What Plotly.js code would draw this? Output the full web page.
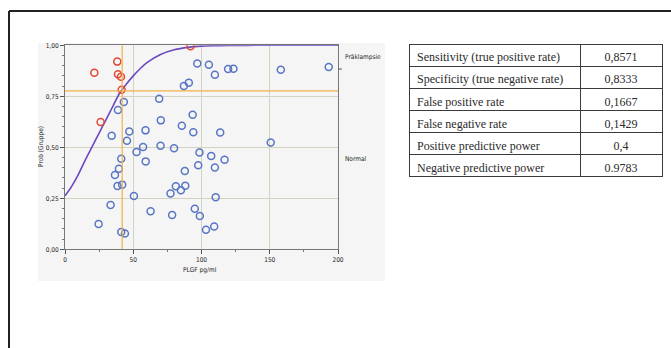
<!DOCTYPE html>
<html>
<head>
<meta charset="utf-8">
<script src="https://cdn.plot.ly/plotly-3.0.1.min.js"></script>
<style>
  html, body { margin: 0; padding: 0; background: #ffffff; }
  #chart { width: 671px; height: 348px; }
</style>
</head>
<body>
<div id="chart"></div>
<script>
// ---- Data ----
// Präklampsie group (red open circles): PLGF pg/ml and predicted probability
const preX = [21.5, 38.3, 38.8, 41.0, 41.5, 26.1, 92.0];
const preP = [0.866, 0.920, 0.858, 0.846, 0.782, 0.624, 0.995];

// Normal group (blue open circles)
const normX = [96.9, 105.4, 109.8, 119.5, 123.4, 158.1, 193.2, 87.1, 90.7, 69.0,
               43.1, 38.8, 70.2, 93.5, 85.6, 47.1, 59.0, 34.2, 45.4, 94.0,
               113.7, 150.7, 57.2, 70.0, 79.9, 52.4, 41.2, 59.1, 39.5, 36.6,
               38.5, 41.9, 87.8, 97.6, 98.5, 107.1, 116.9, 109.8, 50.5, 33.4,
               81.2, 84.9, 88.1, 77.3, 62.7, 78.5, 95.1, 98.8, 24.6, 41.2,
               43.9, 103.3, 109.3, 110.4];
const normP = [0.911, 0.905, 0.856, 0.884, 0.885, 0.880, 0.894, 0.800, 0.817, 0.738,
               0.722, 0.683, 0.632, 0.660, 0.606, 0.577, 0.583, 0.557, 0.532, 0.574,
               0.573, 0.524, 0.502, 0.508, 0.495, 0.477, 0.444, 0.431, 0.395, 0.364,
               0.310, 0.317, 0.384, 0.412, 0.474, 0.457, 0.439, 0.401, 0.261, 0.217,
               0.309, 0.289, 0.312, 0.274, 0.186, 0.168, 0.199, 0.163, 0.124, 0.085,
               0.077, 0.096, 0.112, 0.255];

// Fitted logistic curve
const curveX = [0, 5, 10, 15, 20, 25, 30, 35, 40, 45, 50, 55, 60, 70, 80, 90, 100, 110, 120, 140, 160, 180, 200];
const curveP = [0.262, 0.31, 0.37, 0.44, 0.505, 0.57, 0.635, 0.70, 0.765, 0.81, 0.85, 0.885, 0.915, 0.955, 0.978, 0.99, 0.996, 0.998, 0.999, 1.0, 1.0, 1.0, 1.0];

// Cut-off lines
const cutoffX = 41.9;
const cutoffP = 0.777;

// Axis ticks
const xTicks = [0, 50, 100, 150, 200];
const yTicks = [0, 0.25, 0.5, 0.75, 1.0];

// Titles and group labels
const xTitle = 'PLGF pg/ml';
const yTitle = 'Prob (Gruppe)';
const groupLabels = ["Präklampsie", "Normal"];

// Table
const metricNames = ["Sensitivity (true positive rate)", "Specificity (true negative rate)",
                     "False positive rate", "False negative rate",
                     "Positive predictive power", "Negative predictive power"];
const metricValues = ["0,8571", "0,8333", "0,1667", "0,1429", "0,4", "0.9783"];

// ---- Layout geometry (pixels) ----
const W = 671, H = 348;
const px = v => v / W;
const py = v => 1 - v / H;

const smallFont = { family: 'DejaVu Sans Condensed, DejaVu Sans, sans-serif', size: 6.5, color: '#262626' };

const traces = [
  {
    type: 'scatter', mode: 'lines', x: curveX, y: curveP,
    line: { color: 'rgb(108,72,190)', width: 1.6, shape: 'spline', smoothing: 1 },
    hoverinfo: 'skip', showlegend: false
  },
  {
    type: 'scatter', mode: 'markers', x: normX, y: normP,
    marker: { symbol: 'circle-open', size: 7, color: 'rgb(88,118,196)', line: { width: 1.5, color: 'rgb(88,118,196)' } },
    showlegend: false
  },
  {
    type: 'scatter', mode: 'markers', x: preX, y: preP,
    marker: { symbol: 'circle-open', size: 7, color: 'rgb(226,72,52)', line: { width: 1.5, color: 'rgb(226,72,52)' } },
    showlegend: false
  },
  {
    type: 'table',
    domain: { x: [px(409), px(662.5)], y: [py(178), py(44.3)] },
    columnwidth: [171, 82],
    header: {
      values: [metricNames[0], metricValues[0]],
      align: ['left', 'center'],
      height: 22.1,
      fill: { color: '#ffffff' },
      line: { color: '#3a3a3a', width: 1 },
      font: { family: 'Liberation Serif, Times New Roman, serif', size: 12, color: '#2a2a2a' }
    },
    cells: {
      values: [metricNames.slice(1), metricValues.slice(1)],
      align: ['left', 'center'],
      height: 22.1,
      fill: { color: '#ffffff' },
      line: { color: '#3a3a3a', width: 1 },
      font: { family: 'Liberation Serif, Times New Roman, serif', size: 12, color: '#2a2a2a' }
    }
  }
];

const layout = {
  width: W, height: H,
  margin: { l: 0, r: 0, t: 0, b: 0, pad: 0 },
  paper_bgcolor: '#ffffff',
  plot_bgcolor: 'rgb(244,244,216)',
  separators: ',.',
  showlegend: false,
  xaxis: {
    domain: [px(65), px(338)],
    range: [0, 200],
    tickvals: xTicks,
    ticks: 'outside', ticklen: 4, tickcolor: '#555', tickwidth: 1,
    minor: { dtick: 25, ticks: 'outside', ticklen: 2, tickcolor: '#777', showgrid: false },
    showgrid: true, gridcolor: 'rgb(210,212,192)', gridwidth: 1,
    zeroline: false,
    showline: true, linecolor: '#777', linewidth: 1, mirror: true,
    tickfont: smallFont,
    fixedrange: true
  },
  yaxis: {
    domain: [py(249.3), py(45.3)],
    range: [0, 1],
    tickvals: yTicks,
    tickformat: '.2f',
    ticks: 'outside', ticklen: 4, tickcolor: '#555', tickwidth: 1,
    minor: { dtick: 0.05, ticks: 'outside', ticklen: 2, tickcolor: '#777', showgrid: false },
    showgrid: true, gridcolor: 'rgb(210,212,192)', gridwidth: 1,
    zeroline: false,
    showline: true, linecolor: '#777', linewidth: 1, mirror: true,
    tickfont: smallFont,
    fixedrange: true
  },
  shapes: [
    // light grey chart panel
    { type: 'rect', xref: 'paper', yref: 'paper', x0: px(38), x1: px(385), y0: py(281), y1: py(43),
      fillcolor: 'rgb(245,245,245)', line: { width: 0 }, layer: 'below' },
    // outer frame (top and left)
    { type: 'line', xref: 'paper', yref: 'paper', x0: px(9), x1: px(671), y0: py(11), y1: py(11),
      line: { color: '#222', width: 2 } },
    { type: 'line', xref: 'paper', yref: 'paper', x0: px(9), x1: px(9), y0: py(11), y1: py(348),
      line: { color: '#222', width: 2 } },
    // cut-off lines
    { type: 'line', xref: 'x', yref: 'y', x0: cutoffX, x1: cutoffX, y0: 0, y1: 1,
      line: { color: 'rgb(240,178,70)', width: 1.2 } },
    { type: 'line', xref: 'x', yref: 'y', x0: 0, x1: 200, y0: cutoffP, y1: cutoffP,
      line: { color: 'rgb(240,178,70)', width: 1.2 } },
    // right-side group tick
    { type: 'line', xref: 'paper', yref: 'paper', x0: px(338), x1: px(342), y0: py(69), y1: py(69),
      line: { color: '#555', width: 1 } }
  ],
  annotations: [
    { xref: 'paper', yref: 'paper', x: px(200), y: py(270), text: xTitle, showarrow: false,
      xanchor: 'center', yanchor: 'middle', font: smallFont },
    { xref: 'paper', yref: 'paper', x: px(41), y: py(147), text: yTitle, showarrow: false, textangle: -90,
      xanchor: 'center', yanchor: 'middle', font: smallFont },
    { xref: 'paper', yref: 'paper', x: px(343), y: py(57), text: groupLabels[0], showarrow: false,
      xanchor: 'left', yanchor: 'middle', font: smallFont },
    { xref: 'paper', yref: 'paper', x: px(343), y: py(159), text: groupLabels[1], showarrow: false,
      xanchor: 'left', yanchor: 'middle', font: smallFont }
  ]
};

Plotly.newPlot('chart', traces, layout, { displayModeBar: false, staticPlot: true });
</script>
</body>
</html>
